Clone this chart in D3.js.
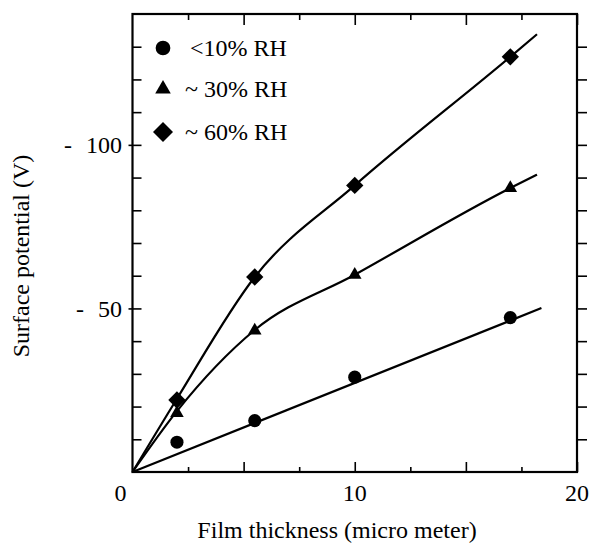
<!DOCTYPE html>
<html>
<head>
<meta charset="utf-8">
<script src="https://cdn.jsdelivr.net/npm/d3@7"></script>
<style>
  body { margin: 0; background: #fff; }
  svg { display: block; }
  text { font-family: "Liberation Serif", "Times New Roman", serif; fill: #000; }
</style>
</head>
<body>
<svg id="chart" width="589" height="546"></svg>
<script>
// measured points
const thickness = [2, 5.5, 10, 17];
const rh10 = [9.1, 15.7, 29.0, 47.2];
const rh30 = [18, 43.2, 60.3, 86.8];
const rh60 = [22, 59.6, 87.6, 126.9];

// drawn fit lines
const fit10X = [0, 18.4];
const fit10Y = [0, 50.1];
const fit30X = [0, 2, 5.5, 10, 17, 18.2];
const fit30Y = [0, 18.6, 43.4, 60.3, 86.8, 90.9];
const fit60X = [0, 2, 5.5, 10, 17, 18.2];
const fit60Y = [0, 22.4, 59.6, 87.6, 126.9, 133.8];

const legendLabels = ['<10% RH', '~ 30% RH', '~ 60% RH'];
const xTickLabels = [0, 10, 20];
const yTickLabels = [50, 100];

const svg = d3.select('#chart');
const plotL = 132.5, plotR = 577, plotT = 14, plotB = 472;

const x = d3.scaleLinear().domain([0, 20]).range([plotL, plotR]);
const y = d3.scaleLinear().domain([0, 140]).range([plotB, plotT]);

// ticks - all drawn with axes, domain path removed
const minorX = d3.range(2.5, 20, 5);
const majorX = d3.range(5, 20.1, 5);
const yTicks = d3.range(10, 140, 10);

function strip(g) {
    g.select('.domain').remove();
    g.selectAll('text').remove();
    g.selectAll('line').attr('stroke', '#000').attr('stroke-width', 1.6);
}

svg.append('g').attr('transform', `translate(0,${plotB})`)
    .call(d3.axisBottom(x).tickValues(minorX).tickSize(-5)).call(strip);
svg.append('g').attr('transform', `translate(0,${plotB})`)
    .call(d3.axisBottom(x).tickValues(majorX).tickSize(-10)).call(strip);
svg.append('g').attr('transform', `translate(0,${plotT})`)
    .call(d3.axisTop(x).tickValues(minorX).tickSize(-6)).call(strip);
svg.append('g').attr('transform', `translate(0,${plotT})`)
    .call(d3.axisTop(x).tickValues(majorX).tickSize(-11)).call(strip);
svg.append('g').attr('transform', `translate(${plotL},0)`)
    .call(d3.axisLeft(y).tickValues(yTicks).tickSize(-9)).call(strip);
svg.append('g').attr('transform', `translate(${plotL},0)`)
    .call(d3.axisLeft(y).tickValues(yTickLabels).tickSize(4)).call(strip);
svg.append('g').attr('transform', `translate(${plotR},0)`)
    .call(d3.axisRight(y).tickValues(yTicks).tickSize(10)).call(strip);

// frame
svg.append('rect')
    .attr('x', plotL).attr('y', plotT)
    .attr('width', plotR - plotL).attr('height', plotB - plotT)
    .attr('fill', 'none').attr('stroke', '#000').attr('stroke-width', 2.2);

// tick labels
svg.selectAll('.xlab').data(xTickLabels).enter().append('text')
    .attr('x', d => d === 0 ? x(d) - 12 : x(d))
    .attr('y', 501)
    .attr('text-anchor', 'middle')
    .style('font-size', '24px')
    .text(d => d);

svg.selectAll('.ylab').data(yTickLabels).enter().append('text')
    .attr('x', 122)
    .attr('y', d => y(d) + 8.5)
    .attr('text-anchor', 'end')
    .style('font-size', '24px')
    .text(d => '-\u2002\u200A' + d);

// axis titles
svg.append('text')
    .attr('x', 337).attr('y', 538)
    .attr('text-anchor', 'middle')
    .style('font-size', '24px')
    .text('Film thickness (micro meter)');

svg.append('text')
    .attr('transform', 'translate(29,256) rotate(-90)')
    .attr('text-anchor', 'middle')
    .style('font-size', '24px')
    .text('Surface potential (V)');

// fit lines
const curve = d3.line()
    .x(d => x(d[0]))
    .y(d => y(d[1]))
    .curve(d3.curveMonotoneX);

[[fit10X, fit10Y], [fit30X, fit30Y], [fit60X, fit60Y]].forEach(([xs, ys]) => {
    svg.append('path')
        .datum(xs.map((v, i) => [v, ys[i]]))
        .attr('d', curve)
        .attr('fill', 'none')
        .attr('stroke', '#000')
        .attr('stroke-width', 2.2);
});

// markers
const symCircle = d3.symbol().type(d3.symbolCircle).size(135);
const symTri = d3.symbol().type(d3.symbolTriangle).size(80);
const symDiamond = d3.symbol().type(d3.symbolSquare).size(150);

function drawPts(vals, sym, rot) {
    svg.append('g').selectAll('path').data(vals).enter().append('path')
        .attr('d', sym)
        .attr('transform', (d, i) => `translate(${x(thickness[i])},${y(d)}) rotate(${rot})`)
        .attr('fill', '#000');
}
drawPts(rh10, symCircle, 0);
drawPts(rh30, symTri, 0);
drawPts(rh60, symDiamond, 45);

// legend
const legendSyms = [
    [d3.symbol().type(d3.symbolCircle).size(170), 0],
    [d3.symbol().type(d3.symbolTriangle).size(105), 0],
    [d3.symbol().type(d3.symbolSquare).size(200), 45]
];
const legendY = [48, 89, 132];
const legendTextX = [190, 185, 185];
const leg = svg.append('g');
legendLabels.forEach((lab, i) => {
    leg.append('path')
        .attr('d', legendSyms[i][0])
        .attr('transform', `translate(163,${legendY[i]}) rotate(${legendSyms[i][1]})`)
        .attr('fill', '#000');
    leg.append('text')
        .attr('x', legendTextX[i])
        .attr('y', legendY[i] + 7.5)
        .style('font-size', '24px')
        .text(lab);
});
</script>
</body>
</html>
